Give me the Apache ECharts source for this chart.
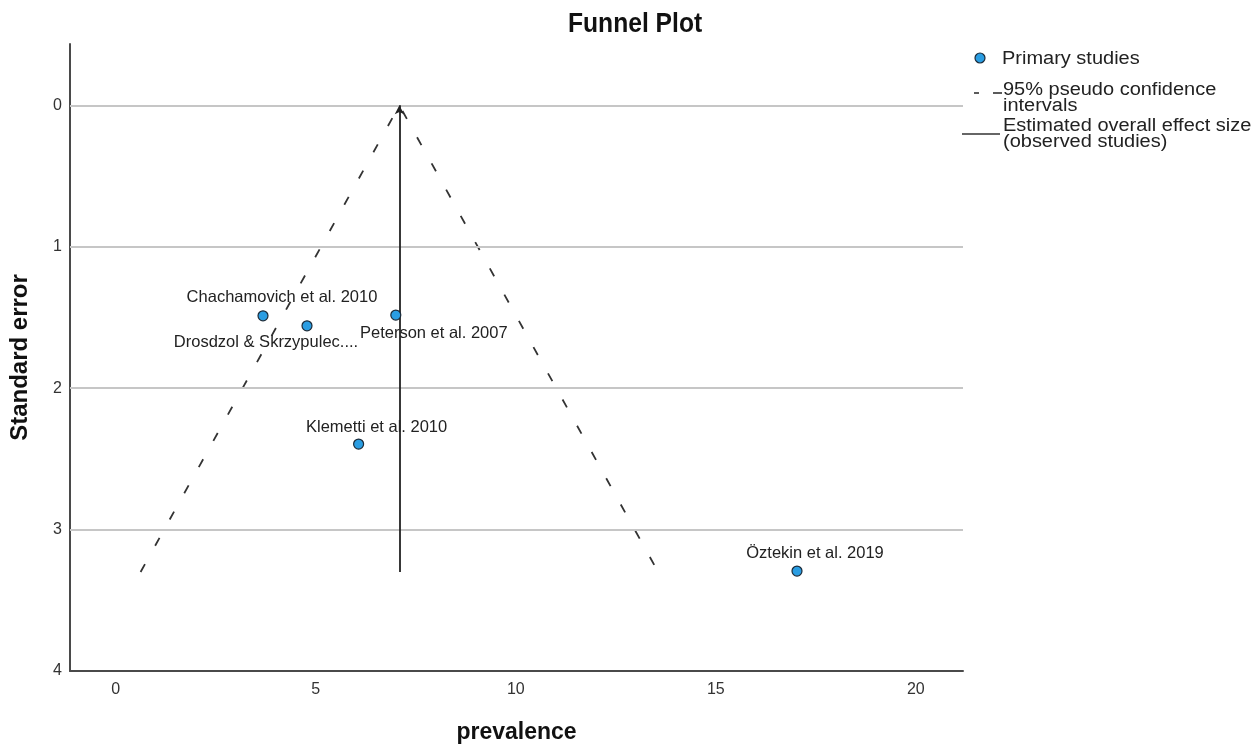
<!DOCTYPE html>
<html>
<head>
<meta charset="utf-8">
<script src="https://cdn.jsdelivr.net/npm/echarts@6/dist/echarts.min.js"></script>
<style>
html,body{margin:0;padding:0;background:#fff;}
#chart{width:1255px;height:745px;}
</style>
</head>
<body>
<div id="chart"></div>
<script>
// ---- data ----
const studies = ['Chachamovich et al. 2010', 'Drosdzol & Skrzypulec....', 'Peterson et al. 2007', 'Klemetti et al. 2010', 'Öztekin et al. 2019'];
const prevalence = [3.68, 4.78, 7.0, 6.07, 17.03];
const standardError = [1.488, 1.559, 1.483, 2.395, 3.293];
const overallEffect = 7.09;
const funnelMaxSE = 3.3;
const ciLowerAtMax = 0.62;
const ciUpperAtMax = 13.56;
const xTicks = [0, 5, 10, 15, 20];
const yTicks = [0, 1, 2, 3, 4];
const gridLevels = [0, 1, 2, 3];

// ---- label placement (style, not data) ----
const labelOffsets = [[19, -18], [-41, 17], [38, 18], [18, -17], [18, -18]];

const FONT = "'Liberation Sans', Arial, sans-serif";
const LEGEND_FONT = "18px 'Liberation Sans', Arial, sans-serif";

const chart = echarts.init(document.getElementById('chart'));

const points = studies.map((name, i) => ({
  name: name,
  value: [prevalence[i], standardError[i]],
  label: { offset: labelOffsets[i] }
}));

const option = {
  backgroundColor: '#fff',
  animation: false,
  textStyle: { fontFamily: FONT },
  grid: { left: 70, top: 44, right: 292, bottom: 74, containLabel: false, outerBoundsMode: 'none' },
  xAxis: {
    type: 'value',
    min: -1.145,
    max: 21.18,
    name: 'prevalence',
    nameLocation: 'middle',
    nameGap: 50,
    nameTextStyle: { fontFamily: FONT, fontWeight: 'bold', fontSize: 23, color: '#111' },
    axisLine: { show: true, onZero: false, lineStyle: { color: '#4a4a4a', width: 2 } },
    axisTick: { show: false },
    splitLine: { show: false },
    axisLabel: {
      margin: 11, fontSize: 16, color: '#333', fontFamily: FONT,
      customValues: xTicks
    }
  },
  yAxis: {
    type: 'value',
    inverse: true,
    min: -0.434,
    max: 4,
    name: 'Standard error',
    nameLocation: 'middle',
    nameRotate: 90,
    nameGap: 38,
    nameTextStyle: { fontFamily: FONT, fontWeight: 'bold', fontSize: 24, color: '#111' },
    axisLine: { show: true, onZero: false, lineStyle: { color: '#4a4a4a', width: 2 } },
    axisTick: { show: false },
    splitLine: { show: false },
    axisLabel: {
      margin: 8, fontSize: 16, color: '#333', fontFamily: FONT,
      customValues: yTicks
    }
  },
  series: [
    {
      name: 'grid',
      type: 'line',
      data: [],
      silent: true,
      z: 1,
      markLine: {
        silent: true,
        symbol: 'none',
        label: { show: false },
        lineStyle: { color: '#c6c6c6', width: 1.8, type: 'solid' },
        data: gridLevels.map(v => ({ yAxis: v }))
      }
    },
    {
      name: '95% pseudo confidence intervals',
      type: 'line',
      data: [[ciLowerAtMax, funnelMaxSE], [overallEffect, 0], [ciUpperAtMax, funnelMaxSE]],
      showSymbol: false,
      symbol: 'none',
      silent: true,
      z: 2,
      lineStyle: { color: '#333', width: 1.8, type: [9, 21] }
    },
    {
      name: 'Estimated overall effect size',
      type: 'line',
      data: [],
      silent: true,
      z: 3,
      markLine: {
        silent: true,
        label: { show: false },
        symbolSize: [7, 9],
        lineStyle: { color: '#222', width: 1.8, type: 'solid' },
        data: [[
          { coord: [overallEffect, funnelMaxSE], symbol: 'none' },
          { coord: [overallEffect, 0], symbol: 'arrow' }
        ]]
      }
    },
    {
      name: 'Primary studies',
      type: 'scatter',
      z: 5,
      symbol: 'circle',
      symbolSize: 10,
      itemStyle: { color: '#2a9de2', borderColor: '#1b2a38', borderWidth: 1.2, opacity: 1 },
      label: {
        show: true,
        position: 'inside',
        formatter: p => p.name,
        fontFamily: FONT,
        fontSize: 16.5,
        color: '#222'
      },
      data: points
    }
  ],
  graphic: [
    { type: 'text', x: 568, y: 24, scaleX: 0.88, style: { text: 'Funnel Plot', font: "bold 28px 'Liberation Sans', Arial, sans-serif", fill: '#111', verticalAlign: 'middle', align: 'left' } },
    { type: 'circle', shape: { cx: 980, cy: 58, r: 5 }, style: { fill: '#2a9de2', stroke: '#1b2a38', lineWidth: 1.2 } },
    { type: 'text', x: 1002, y: 59, scaleX: 1.11, style: { text: 'Primary studies', font: LEGEND_FONT, fill: '#222', verticalAlign: 'middle', align: 'left' } },
    { type: 'line', shape: { x1: 974, y1: 93, x2: 979, y2: 93 }, style: { stroke: '#333', lineWidth: 1.6 } },
    { type: 'line', shape: { x1: 993, y1: 93, x2: 1002, y2: 93 }, style: { stroke: '#333', lineWidth: 1.6 } },
    { type: 'text', x: 1003, y: 98, scaleX: 1.11, style: { text: '95% pseudo confidence\nintervals', font: LEGEND_FONT, lineHeight: 15.7, fill: '#222', verticalAlign: 'middle', align: 'left' } },
    { type: 'line', shape: { x1: 962, y1: 134, x2: 1000, y2: 134 }, style: { stroke: '#333', lineWidth: 1.6 } },
    { type: 'text', x: 1003, y: 134, scaleX: 1.11, style: { text: 'Estimated overall effect size\n(observed studies)', font: LEGEND_FONT, lineHeight: 15.7, fill: '#222', verticalAlign: 'middle', align: 'left' } }
  ]
};

chart.setOption(option);
</script>
</body>
</html>
